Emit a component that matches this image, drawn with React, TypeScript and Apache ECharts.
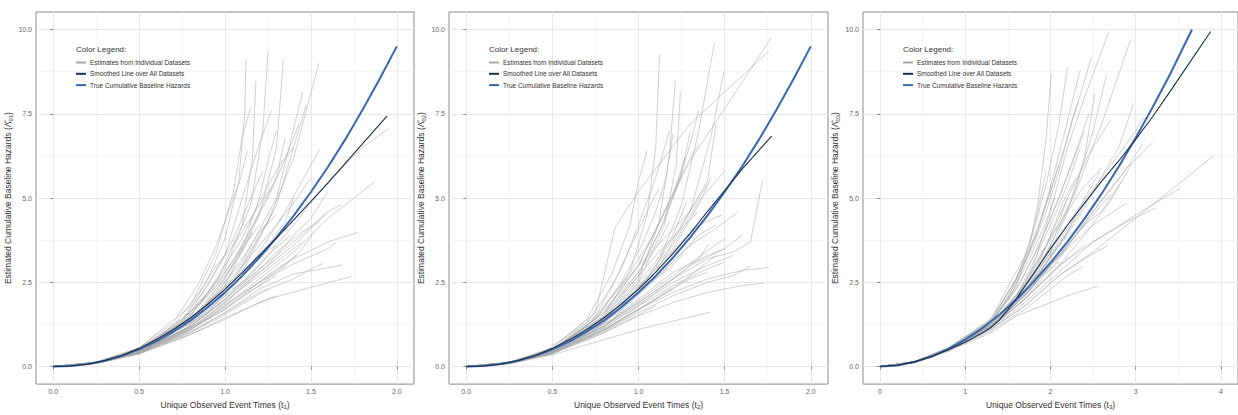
import React, { useEffect, useRef } from "react";
import * as echarts from "echarts";

const FONT = "Liberation Sans, Arial, Helvetica, sans-serif";

const LEGEND_NAMES = [
  "Estimates from Individual Datasets",
  "Smoothed Line over All Datasets",
  "True Cumulative Baseline Hazards",
];

const Y_TICKS = [0, 2.5, 5, 7.5, 10];
const Y_MINOR = [1.25, 3.75, 6.25, 8.75];
const X_TICKS_12 = [0, 0.5, 1, 1.5, 2];
const X_MINOR_12 = [0.25, 0.75, 1.25, 1.75];
const X_TICKS_3 = [0, 1, 2, 3, 4];
const X_MINOR_3 = [0.5, 1.5, 2.5, 3.5];

// ---------- Panel 1 (t1) ----------
const TRUE_1: number[][] = [
  [0, 0], [0.1, 0.017], [0.2, 0.074], [0.3, 0.173], [0.4, 0.318], [0.5, 0.51],
  [0.6, 0.75], [0.7, 1.04], [0.8, 1.37], [0.9, 1.76], [1.0, 2.2], [1.1, 2.69],
  [1.2, 3.23], [1.3, 3.83], [1.4, 4.48], [1.5, 5.18], [1.6, 5.93], [1.7, 6.74],
  [1.8, 7.61], [1.9, 8.53], [2.0, 9.5],
];
const SMOOTH_1: number[][] = [
  [0, 0], [0.1, 0.017], [0.2, 0.07], [0.3, 0.18], [0.4, 0.33], [0.5, 0.54],
  [0.6, 0.8], [0.7, 1.1], [0.8, 1.45], [0.9, 1.85], [1.0, 2.3], [1.1, 2.78],
  [1.2, 3.3], [1.3, 3.82], [1.4, 4.35], [1.5, 4.9], [1.6, 5.45], [1.7, 6.03],
  [1.8, 6.61], [1.944, 7.44],
];
const GREY_1: number[][][] = [
  [[0,0],[0.25,0.13],[0.5,0.55],[0.75,1.3],[0.9,2.6],[1.0,3.8],[1.08,5.5],[1.115,7.5],[1.122,9.1]],
  [[0,0],[0.25,0.12],[0.5,0.5],[0.75,1.2],[0.95,2.5],[1.1,4.2],[1.16,6.2],[1.18,8.49]],
  [[0,0],[0.25,0.12],[0.5,0.5],[0.8,1.5],[1.0,2.9],[1.15,4.8],[1.22,7.0],[1.25,9.35]],
  [[0,0],[0.25,0.11],[0.5,0.45],[0.8,1.4],[1.0,2.4],[1.2,4.5],[1.3,6.5],[1.34,9.1]],
  [[0,0],[0.25,0.11],[0.5,0.45],[0.8,1.3],[1.05,2.5],[1.25,4.3],[1.4,6.2],[1.546,9.0]],
  [[0,0],[0.25,0.12],[0.5,0.5],[0.85,1.6],[1.1,3.1],[1.3,5.0],[1.452,8.15]],
  [[0,0],[0.25,0.11],[0.5,0.45],[0.85,1.5],[1.1,2.8],[1.3,4.8],[1.472,7.76]],
  [[0,0],[0.25,0.1],[0.5,0.4],[0.9,1.6],[1.15,3.0],[1.35,4.6],[1.55,6.45]],
  [[0,0],[0.25,0.13],[0.5,0.55],[0.8,1.8],[0.95,3.4],[1.05,5.2],[1.1,6.8],[1.15,7.7]],
  [[0,0],[0.25,0.12],[0.5,0.5],[0.8,1.6],[1.0,3.3],[1.1,5.0],[1.2,6.6],[1.27,7.6]],
  [[0,0],[0.25,0.11],[0.5,0.45],[0.85,1.6],[1.05,3.0],[1.2,4.6],[1.3,5.6],[1.35,6.8]],
  [[0,0],[0.25,0.12],[0.5,0.5],[0.75,1.4],[0.9,2.4],[1.05,3.8],[1.15,5.0],[1.22,5.8]],
  [[0,0],[0.25,0.11],[0.5,0.45],[0.8,1.2],[1.0,2.0],[1.2,3.0],[1.4,4.2],[1.6,5.5],[1.8,6.5],[1.95,7.05]],
  [[0,0],[0.25,0.1],[0.5,0.4],[0.8,1.1],[1.0,1.8],[1.2,2.6],[1.4,3.4],[1.6,4.4],[1.75,5.0],[1.87,5.48]],
  [[0,0],[0.25,0.1],[0.5,0.4],[0.8,1.1],[1.0,1.8],[1.2,2.5],[1.4,3.2],[1.6,3.7],[1.773,3.98]],
  [[0,0],[0.25,0.09],[0.5,0.38],[0.8,0.95],[1.0,1.45],[1.25,2.0],[1.5,2.35],[1.734,2.67]],
  [[0,0],[0.25,0.1],[0.5,0.4],[0.8,1.0],[1.0,1.6],[1.2,2.3],[1.4,2.75],[1.685,3.01]],
  [[0,0],[0.25,0.11],[0.5,0.45],[0.8,1.2],[1.0,2.0],[1.2,2.8],[1.4,3.6],[1.585,4.52]],
  [[0,0],[0.25,0.11],[0.5,0.45],[0.8,1.2],[1.0,2.0],[1.2,2.9],[1.4,3.7],[1.6,4.6],[1.676,4.8]],
  [[0,0],[0.25,0.1],[0.5,0.4],[0.8,1.05],[1.0,1.6],[1.2,2.2],[1.4,2.6],[1.5,2.9],[1.569,3.06]],
  [[0,0],[0.25,0.1],[0.5,0.42],[0.85,1.3],[1.05,2.1],[1.25,3.0],[1.4,3.9],[1.5,4.4],[1.6,5.2]],
  [[0,0],[0.25,0.09],[0.5,0.38],[0.75,0.85],[1.0,1.4],[1.2,1.9],[1.3,2.1]],
  [[0,0],[0.25,0.09],[0.5,0.38],[0.75,0.9],[0.95,1.4],[1.15,2.0],[1.25,2.3]],
  [[0,0],[0.25,0.1],[0.5,0.4],[0.75,1.0],[1.0,1.7],[1.15,2.3],[1.3,2.9],[1.42,3.3]],
  [[0,0],[0.25,0.1],[0.5,0.42],[0.75,1.05],[0.95,1.9],[1.1,2.5],[1.25,3.3],[1.38,3.9]],
  [[0,0],[0.25,0.11],[0.5,0.45],[0.7,1.0],[0.9,1.9],[1.05,2.6],[1.2,3.3],[1.3,3.6]],
  [[0,0],[0.25,0.12],[0.5,0.48],[0.7,1.1],[0.9,2.2],[1.0,2.8],[1.1,3.5],[1.2,4.2]],
  [[0,0],[0.25,0.12],[0.5,0.5],[0.7,1.2],[0.85,2.2],[0.95,3.0],[1.05,3.6],[1.15,4.4],[1.28,5.4]],
  [[0,0],[0.25,0.13],[0.5,0.55],[0.7,1.3],[0.85,2.5],[0.95,3.6],[1.02,4.6],[1.08,5.4],[1.13,6.4]],
  [[0,0],[0.25,0.12],[0.5,0.5],[0.75,1.3],[0.9,2.2],[1.0,3.0],[1.1,3.8],[1.2,4.9],[1.32,6.0],[1.4,6.5]],
  [[0,0],[0.25,0.11],[0.5,0.45],[0.8,1.3],[0.95,2.2],[1.1,3.2],[1.2,4.0],[1.3,4.5]],
  [[0,0],[0.25,0.1],[0.5,0.4],[0.75,0.95],[1.0,1.7],[1.2,2.4],[1.35,3.0],[1.45,3.5],[1.52,4.0]],
  [[0,0],[0.25,0.1],[0.5,0.43],[0.8,1.15],[1.0,1.9],[1.15,2.6],[1.3,3.4],[1.45,4.0],[1.55,4.3]],
  [[0,0],[0.25,0.12],[0.5,0.5],[0.75,1.25],[0.95,2.4],[1.1,3.6],[1.25,5.0],[1.37,6.4],[1.43,7.2]],
  [[0,0],[0.25,0.11],[0.5,0.47],[0.8,1.35],[1.0,2.3],[1.15,3.3],[1.3,4.2],[1.42,5.0],[1.5,5.6]],
  [[0,0],[0.25,0.1],[0.5,0.42],[0.8,1.2],[1.0,1.95],[1.2,2.7],[1.35,3.3],[1.45,3.7]],
  [[0,0],[0.25,0.1],[0.5,0.4],[0.8,1.1],[1.0,1.75],[1.15,2.25],[1.3,2.7]],
  [[0,0],[0.25,0.11],[0.5,0.44],[0.75,1.15],[0.95,2.0],[1.1,2.8],[1.25,3.6],[1.35,4.3],[1.4,5.0]],
  [[0,0],[0.25,0.11],[0.5,0.46],[0.75,1.2],[0.95,2.1],[1.1,3.0],[1.2,3.9],[1.28,4.6]],
  [[0,0],[0.25,0.1],[0.5,0.41],[0.8,1.15],[1.0,1.85],[1.2,2.5],[1.4,3.05],[1.6,3.5],[1.65,3.7]],
  [[0,0],[0.25,0.12],[0.5,0.5],[0.7,1.15],[0.88,2.0],[1.0,2.7],[1.1,3.4],[1.16,4.0]],
  [[0,0],[0.25,0.1],[0.5,0.43],[0.75,1.05],[0.9,1.65],[1.05,2.3],[1.18,2.8]],
  [[0,0],[0.25,0.11],[0.5,0.47],[0.8,1.4],[1.0,2.6],[1.12,3.8],[1.2,5.0],[1.26,6.3],[1.3,7.0]],
];

// ---------- Panel 2 (t2) ----------
const TRUE_2: number[][] = [
  [0, 0], [0.1, 0.017], [0.2, 0.074], [0.3, 0.173], [0.4, 0.318], [0.5, 0.51],
  [0.6, 0.75], [0.7, 1.04], [0.8, 1.37], [0.9, 1.76], [1.0, 2.2], [1.1, 2.69],
  [1.2, 3.23], [1.3, 3.83], [1.4, 4.48], [1.5, 5.18], [1.6, 5.93], [1.7, 6.74],
  [1.8, 7.61], [1.9, 8.53], [2.0, 9.5],
];
const SMOOTH_2: number[][] = [
  [0, 0], [0.1, 0.017], [0.2, 0.07], [0.3, 0.18], [0.4, 0.33], [0.5, 0.54],
  [0.6, 0.8], [0.7, 1.1], [0.8, 1.45], [0.9, 1.85], [1.0, 2.3], [1.1, 2.8],
  [1.2, 3.35], [1.3, 3.95], [1.4, 4.6], [1.5, 5.22], [1.6, 5.85], [1.7, 6.42],
  [1.773, 6.84],
];
const GREY_2: number[][][] = [
  [[0,0],[0.25,0.12],[0.5,0.5],[0.8,1.5],[0.95,2.8],[1.05,4.5],[1.1,6.5],[1.122,9.28]],
  [[0,0],[0.25,0.11],[0.5,0.45],[0.8,1.4],[1.0,2.6],[1.12,4.3],[1.18,6.3],[1.214,8.49]],
  [[0,0],[0.25,0.11],[0.5,0.45],[0.8,1.35],[1.0,2.5],[1.15,4.2],[1.22,6.0],[1.243,8.15]],
  [[0,0],[0.25,0.11],[0.5,0.45],[0.85,1.5],[1.1,2.9],[1.25,4.8],[1.35,7.0],[1.44,9.6]],
  [[0,0],[0.25,0.11],[0.5,0.45],[0.85,1.4],[1.1,2.8],[1.3,4.6],[1.42,6.8],[1.495,8.73]],
  [[0,0],[0.25,0.13],[0.5,0.55],[0.75,1.6],[0.864,4.13],[1.0,5.2],[1.3,7.2],[1.757,9.36]],
  [[0,0],[0.25,0.12],[0.5,0.5],[0.8,1.6],[1.0,3.0],[1.15,4.6],[1.3,6.1],[1.77,9.75]],
  [[0,0],[0.25,0.11],[0.5,0.45],[0.8,1.3],[1.05,2.6],[1.25,4.2],[1.4,5.5],[1.45,7.2]],
  [[0,0],[0.25,0.12],[0.5,0.5],[0.8,1.5],[1.0,2.8],[1.15,4.3],[1.25,5.7],[1.3,7.0]],
  [[0,0],[0.25,0.12],[0.5,0.5],[0.75,1.4],[0.95,2.8],[1.1,4.0],[1.2,5.1],[1.27,6.2]],
  [[0,0],[0.25,0.12],[0.45,0.45],[0.7,1.3],[0.85,2.4],[0.95,3.5],[1.05,4.6],[1.12,5.3]],
  [[0,0],[0.25,0.11],[0.5,0.45],[0.85,1.5],[1.05,2.5],[1.2,3.4],[1.35,4.2],[1.485,4.5]],
  [[0,0],[0.25,0.1],[0.5,0.42],[0.8,1.2],[1.0,1.9],[1.2,2.6],[1.35,3.2],[1.408,3.64]],
  [[0,0],[0.25,0.1],[0.5,0.42],[0.8,1.2],[1.0,2.0],[1.2,2.8],[1.4,3.3],[1.505,3.5]],
  [[0,0],[0.25,0.1],[0.5,0.4],[0.8,1.05],[1.0,1.6],[1.2,2.1],[1.4,2.5],[1.55,2.7],[1.65,2.98]],
  [[0,0],[0.25,0.08],[0.5,0.35],[0.8,0.8],[1.0,1.1],[1.2,1.35],[1.417,1.61]],
  [[0,0],[0.25,0.1],[0.5,0.4],[0.8,1.1],[1.0,1.7],[1.2,2.2],[1.4,2.6],[1.6,2.85],[1.757,2.94]],
  [[0,0],[0.25,0.09],[0.5,0.38],[0.8,1.0],[1.0,1.5],[1.2,1.9],[1.4,2.2],[1.6,2.4],[1.728,2.48]],
  [[0,0],[0.25,0.11],[0.5,0.45],[0.8,1.2],[1.0,1.9],[1.2,2.6],[1.4,3.2],[1.55,3.4],[1.65,3.7],[1.72,5.53]],
  [[0,0],[0.25,0.1],[0.5,0.42],[0.8,1.15],[1.0,1.85],[1.2,2.5],[1.4,3.0],[1.55,3.3]],
  [[0,0],[0.25,0.1],[0.5,0.4],[0.8,1.1],[1.0,1.7],[1.2,2.3],[1.35,2.9],[1.45,3.3]],
  [[0,0],[0.25,0.11],[0.5,0.45],[0.8,1.3],[1.0,2.2],[1.2,3.1],[1.35,3.9],[1.45,4.2]],
  [[0,0],[0.25,0.12],[0.5,0.48],[0.75,1.3],[0.95,2.4],[1.1,3.3],[1.25,4.1],[1.35,4.6]],
  [[0,0],[0.25,0.1],[0.5,0.4],[0.75,0.95],[0.95,1.5],[1.1,2.0],[1.2,2.3]],
  [[0,0],[0.25,0.09],[0.5,0.38],[0.75,0.9],[0.95,1.4],[1.1,1.8]],
  [[0,0],[0.25,0.12],[0.5,0.5],[0.7,1.2],[0.85,2.1],[1.0,3.0],[1.15,3.8],[1.3,4.6],[1.4,5.4]],
  [[0,0],[0.25,0.12],[0.5,0.5],[0.75,1.5],[0.9,2.9],[1.0,4.2],[1.1,5.6],[1.18,7.0]],
  [[0,0],[0.25,0.13],[0.5,0.55],[0.7,1.4],[0.85,2.8],[0.95,4.2],[1.0,5.5],[1.05,6.4]],
  [[0,0],[0.25,0.12],[0.5,0.5],[0.8,1.6],[1.0,3.0],[1.15,4.6],[1.28,6.0],[1.35,6.6]],
  [[0,0],[0.25,0.11],[0.5,0.45],[0.8,1.3],[1.0,2.3],[1.2,3.5],[1.35,4.8],[1.42,5.6]],
  [[0,0],[0.25,0.11],[0.5,0.45],[0.85,1.4],[1.1,2.6],[1.3,3.6],[1.45,4.1],[1.58,4.6]],
  [[0,0],[0.25,0.1],[0.5,0.4],[0.85,1.2],[1.1,2.2],[1.3,3.0],[1.5,3.5],[1.6,3.9]],
  [[0,0],[0.25,0.12],[0.5,0.5],[0.75,1.4],[0.9,2.5],[1.02,3.6],[1.1,4.6],[1.16,5.6],[1.2,6.9]],
  [[0,0],[0.25,0.11],[0.5,0.47],[0.8,1.35],[1.0,2.4],[1.2,3.6],[1.35,4.9],[1.5,5.8]],
  [[0,0],[0.25,0.1],[0.5,0.42],[0.8,1.2],[1.0,1.95],[1.2,2.7],[1.35,3.25],[1.5,3.8]],
  [[0,0],[0.25,0.1],[0.5,0.4],[0.8,1.1],[1.0,1.7],[1.15,2.2],[1.3,2.6],[1.4,2.8]],
  [[0,0],[0.25,0.11],[0.5,0.45],[0.75,1.2],[0.95,2.1],[1.1,2.9],[1.25,3.7],[1.32,4.1]],
  [[0,0],[0.25,0.11],[0.5,0.47],[0.75,1.25],[0.95,2.2],[1.1,3.1],[1.2,3.9],[1.28,4.9]],
  [[0,0],[0.25,0.1],[0.5,0.41],[0.8,1.15],[1.0,1.8],[1.2,2.4],[1.4,2.9],[1.5,3.1]],
  [[0,0],[0.25,0.12],[0.5,0.5],[0.7,1.2],[0.88,2.1],[1.0,2.8],[1.1,3.5],[1.18,4.3]],
  [[0,0],[0.25,0.11],[0.5,0.44],[0.75,1.1],[0.9,1.7],[1.05,2.4],[1.2,3.0],[1.25,3.3]],
  [[0,0],[0.25,0.12],[0.5,0.48],[0.8,1.45],[1.0,2.7],[1.12,4.0],[1.22,5.3],[1.3,6.6],[1.35,7.6]],
];

// ---------- Panel 3 (t3) ----------
const TRUE_3: number[][] = [
  [0, 0], [0.2, 0.035], [0.4, 0.133], [0.6, 0.29], [0.8, 0.52], [1.0, 0.8],
  [1.2, 1.14], [1.4, 1.54], [1.6, 1.99], [1.8, 2.51], [2.0, 3.08], [2.2, 3.71],
  [2.4, 4.39], [2.6, 5.13], [2.8, 5.93], [3.0, 6.79], [3.2, 7.7], [3.4, 8.66],
  [3.66, 10.0],
];
const SMOOTH_3: number[][] = [
  [0, 0], [0.2, 0.04], [0.4, 0.14], [0.6, 0.3], [0.8, 0.5], [1.0, 0.72],
  [1.2, 1.0], [1.3, 1.16], [1.4, 1.38], [1.5, 1.68], [1.6, 2.02], [1.8, 2.75],
  [2.0, 3.5], [2.2, 4.2], [2.4, 4.85], [2.6, 5.5], [2.8, 6.1], [3.0, 6.74],
  [3.2, 7.42], [3.4, 8.15], [3.6, 8.9], [3.88, 9.94],
];
const GREY_3: number[][][] = [
  [[0,0],[0.4,0.13],[0.8,0.5],[1.3,1.2],[1.6,2.0],[1.8,3.0],[2.0,4.6],[2.2,6.5],[2.4,8.0],[2.687,9.94]],
  [[0,0],[0.4,0.13],[0.8,0.5],[1.3,1.2],[1.7,2.2],[2.0,3.6],[2.3,5.2],[2.6,7.2],[2.94,9.7]],
  [[0,0],[0.4,0.14],[0.8,0.55],[1.3,1.3],[1.6,2.4],[1.8,3.8],[2.0,5.2],[2.2,6.8],[2.48,9.17]],
  [[0,0],[0.4,0.14],[0.8,0.55],[1.3,1.3],[1.6,2.5],[1.85,4.0],[2.05,5.8],[2.2,7.3],[2.346,8.78]],
  [[0,0],[0.4,0.14],[0.8,0.55],[1.3,1.35],[1.6,2.6],[1.8,4.0],[1.95,5.4],[2.1,7.2],[2.2,8.88]],
  [[0,0],[0.4,0.14],[0.8,0.55],[1.3,1.4],[1.55,2.6],[1.75,3.5],[1.85,4.8],[1.95,6.8],[2.008,8.68]],
  [[0,0],[0.4,0.13],[0.8,0.5],[1.3,1.25],[1.7,2.3],[2.0,3.6],[2.3,5.3],[2.5,7.0],[2.656,8.64]],
  [[0,0],[0.4,0.13],[0.8,0.5],[1.3,1.2],[1.7,2.2],[2.0,3.4],[2.2,4.6],[2.4,6.2],[2.52,8.1]],
  [[0,0],[0.4,0.13],[0.8,0.5],[1.3,1.2],[1.7,2.2],[2.1,3.6],[2.5,5.2],[2.8,6.5],[2.975,7.81]],
  [[0,0],[0.4,0.13],[0.8,0.5],[1.3,1.15],[1.7,2.0],[2.1,3.2],[2.5,4.6],[2.9,5.9],[3.2,6.65]],
  [[0,0],[0.4,0.13],[0.8,0.5],[1.3,1.2],[1.7,2.1],[2.1,3.3],[2.5,4.6],[2.9,5.9],[3.08,6.6]],
  [[0,0],[0.4,0.12],[0.8,0.48],[1.3,1.1],[1.7,1.8],[2.1,2.7],[2.5,3.4],[3.2,4.8],[3.926,6.28]],
  [[0,0],[0.4,0.12],[0.8,0.48],[1.3,1.1],[1.7,1.9],[2.1,2.8],[2.5,3.7],[3.0,4.5],[3.52,5.29]],
  [[0,0],[0.4,0.13],[0.8,0.5],[1.3,1.15],[1.7,2.0],[2.1,3.0],[2.5,3.7],[2.9,4.3],[3.24,4.71]],
  [[0,0],[0.4,0.13],[0.8,0.5],[1.3,1.2],[1.7,2.1],[2.1,3.3],[2.5,4.2],[2.89,4.85]],
  [[0,0],[0.4,0.12],[0.8,0.48],[1.3,1.1],[1.7,1.8],[2.1,2.7],[2.4,3.2],[2.676,3.6]],
  [[0,0],[0.4,0.12],[0.8,0.47],[1.3,1.05],[1.7,1.7],[2.0,2.3],[2.2,2.7],[2.385,2.97]],
  [[0,0],[0.4,0.12],[0.8,0.45],[1.3,1.0],[1.6,1.5],[1.9,1.8],[2.2,2.1],[2.548,2.38]],
  [[0,0],[0.4,0.13],[0.8,0.5],[1.3,1.2],[1.7,2.2],[2.0,3.2],[2.2,4.0],[2.4,5.0],[2.58,5.78]],
  [[0,0],[0.4,0.13],[0.8,0.5],[1.3,1.2],[1.7,2.1],[2.1,3.3],[2.4,4.2],[2.6,4.6],[2.83,5.48]],
  [[0,0],[0.4,0.14],[0.8,0.52],[1.3,1.25],[1.6,2.1],[1.8,3.1],[2.0,4.2],[2.2,5.4],[2.35,6.5]],
  [[0,0],[0.4,0.14],[0.8,0.52],[1.3,1.3],[1.6,2.3],[1.85,3.5],[2.05,4.7],[2.25,6.0],[2.4,7.0]],
  [[0,0],[0.4,0.14],[0.8,0.52],[1.3,1.3],[1.5,2.0],[1.7,3.2],[1.85,4.6],[1.95,5.8]],
  [[0,0],[0.4,0.13],[0.8,0.5],[1.3,1.2],[1.6,1.9],[1.9,2.9],[2.1,3.6],[2.3,4.3],[2.45,4.9]],
  [[0,0],[0.4,0.13],[0.8,0.5],[1.3,1.25],[1.65,2.3],[1.9,3.4],[2.15,4.4],[2.35,5.2],[2.6,5.9]],
  [[0,0],[0.4,0.13],[0.8,0.5],[1.2,1.0],[1.5,1.6],[1.75,2.3],[2.0,3.0],[2.2,3.5]],
  [[0,0],[0.4,0.13],[0.8,0.5],[1.3,1.2],[1.65,2.0],[1.9,2.7],[2.1,3.1]],
  [[0,0],[0.4,0.14],[0.8,0.55],[1.3,1.4],[1.6,2.6],[1.8,3.6],[1.95,4.6],[2.1,5.8],[2.25,7.3],[2.33,7.9]],
  [[0,0],[0.4,0.14],[0.8,0.55],[1.3,1.35],[1.55,2.4],[1.75,3.4],[1.9,4.4],[2.0,5.2],[2.1,6.0]],
  [[0,0],[0.4,0.13],[0.8,0.5],[1.3,1.2],[1.7,2.2],[2.0,3.4],[2.3,4.6],[2.6,5.6],[2.8,6.3],[3.0,7.0],[3.1,7.4]],
  [[0,0],[0.4,0.13],[0.8,0.5],[1.3,1.2],[1.7,2.0],[2.1,3.0],[2.4,3.9],[2.7,4.9],[2.95,6.0]],
  [[0,0],[0.4,0.14],[0.8,0.52],[1.3,1.3],[1.65,2.5],[1.9,3.8],[2.1,5.0],[2.3,6.4],[2.45,7.5]],
  [[0,0],[0.4,0.13],[0.8,0.5],[1.3,1.2],[1.6,1.95],[1.9,2.9],[2.1,3.7],[2.3,4.5]],
  [[0,0],[0.4,0.14],[0.8,0.52],[1.3,1.25],[1.6,2.1],[1.9,3.3],[2.1,4.3],[2.2,5.0]],
  [[0,0],[0.4,0.13],[0.8,0.5],[1.3,1.2],[1.6,2.0],[1.85,2.9],[2.05,3.5],[2.25,4.0]],
  [[0,0],[0.4,0.14],[0.8,0.53],[1.3,1.3],[1.55,2.2],[1.75,3.2],[1.9,4.0],[2.05,5.0]],
  [[0,0],[0.4,0.13],[0.8,0.5],[1.3,1.18],[1.7,2.1],[2.0,3.0],[2.3,3.9],[2.5,4.5],[2.7,5.1]],
  [[0,0],[0.4,0.13],[0.8,0.5],[1.3,1.22],[1.6,2.05],[1.85,3.0],[2.0,3.9],[2.15,4.9],[2.3,5.6]],
  [[0,0],[0.4,0.13],[0.8,0.51],[1.3,1.25],[1.7,2.4],[1.95,3.6],[2.2,5.0],[2.45,6.3],[2.7,7.3]],
  [[0,0],[0.4,0.12],[0.8,0.49],[1.3,1.15],[1.65,1.9],[1.95,2.6],[2.2,3.2],[2.4,3.6]],
];

const GREY_COLOR = "#a6a6a6";
const SMOOTH_COLOR = "#1c2f4d";
const TRUE_COLOR = "#3868b0";

const PANELS = [
  { left: 36, width: 378, xMin: -0.1, xMax: 2.1, ticks: X_TICKS_12, minor: X_MINOR_12, dec: 1, sub: "1", yIdx: "01", grey: GREY_1, smooth: SMOOTH_1, truth: TRUE_1 },
  { left: 449, width: 379, xMin: -0.1, xMax: 2.1, ticks: X_TICKS_12, minor: X_MINOR_12, dec: 1, sub: "2", yIdx: "02", grey: GREY_2, smooth: SMOOTH_2, truth: TRUE_2 },
  { left: 863, width: 377.5, xMin: -0.2, xMax: 4.2, ticks: X_TICKS_3, minor: X_MINOR_3, dec: 0, sub: "3", yIdx: "03", grey: GREY_3, smooth: SMOOTH_3, truth: TRUE_3 },
];

const TOP = 12;
const HEIGHT = 380;

function buildOption() {
  const grid: any[] = [];
  const xAxis: any[] = [];
  const yAxis: any[] = [];
  const series: any[] = [];
  const legend: any[] = [];
  const graphic: any[] = [];

  PANELS.forEach((p, i) => {
    grid.push({
      left: p.left, top: TOP, width: p.width, height: HEIGHT,
      show: true, borderColor: "#8c8c8c", borderWidth: 1, backgroundColor: "#ffffff",
    });
    xAxis.push({
      gridIndex: i, type: "value", min: p.xMin, max: p.xMax,
      axisLine: { show: false },
      axisTick: { show: true, customValues: p.ticks, length: 3, lineStyle: { color: "#8c8c8c", width: 1 } },
      axisLabel: {
        customValues: p.ticks, fontSize: 7, color: "#666666", margin: 4, fontFamily: FONT,
        formatter: (v: number) => v.toFixed(p.dec),
      },
      splitLine: { show: false },
      name: `Unique Observed Event Times (t{s|${p.sub}})`,
      nameLocation: "middle", nameGap: 11,
      nameTextStyle: {
        fontSize: 8.5, color: "#333333", fontFamily: FONT, lineHeight: 10,
        rich: { s: { fontSize: 6, lineHeight: 6, verticalAlign: "bottom", color: "#333333", fontFamily: FONT } },
      },
    });
    yAxis.push({
      gridIndex: i, type: "value", min: -0.52, max: 10.52,
      axisLine: { show: false },
      axisTick: { show: true, customValues: Y_TICKS, length: 3, lineStyle: { color: "#8c8c8c", width: 1 } },
      axisLabel: {
        customValues: Y_TICKS, fontSize: 7, color: "#666666", margin: 4, fontFamily: FONT,
        formatter: (v: number) => v.toFixed(1),
      },
      splitLine: { show: false },
      name: `Estimated Cumulative Baseline Hazards ({h|Λ̂}{s|${p.yIdx}})`,
      nameLocation: "middle", nameGap: 17, nameRotate: 90,
      nameTextStyle: {
        fontSize: 8.5, color: "#333333", fontFamily: FONT, lineHeight: 12,
        rich: {
          h: { fontSize: 8.5, lineHeight: 12, color: "#333333", fontFamily: FONT },
          s: { fontSize: 6, lineHeight: 7, verticalAlign: "bottom", color: "#333333", fontFamily: FONT },
        },
      },
    });

    const lineData: any[] = [];
    p.minor.forEach((v) => lineData.push({ xAxis: v, lineStyle: { color: "#f0f0f0", width: 0.6 } }));
    Y_MINOR.forEach((v) => lineData.push({ yAxis: v, lineStyle: { color: "#f0f0f0", width: 0.6 } }));
    p.ticks.forEach((v) => lineData.push({ xAxis: v, lineStyle: { color: "#e8e8e8", width: 1 } }));
    Y_TICKS.forEach((v) => lineData.push({ yAxis: v, lineStyle: { color: "#e8e8e8", width: 1 } }));
    series.push({
      type: "line", name: "_grid" + i, xAxisIndex: i, yAxisIndex: i, z: 0,
      data: [[0, 0]], symbol: "none", lineStyle: { opacity: 0 }, silent: true,
      markLine: {
        silent: true, z: 0, symbol: ["none", "none"], label: { show: false },
        lineStyle: { type: "solid" }, emphasis: { disabled: true },
        data: lineData,
      },
    });

    p.grey.forEach((line) => {
      series.push({
        type: "line", name: LEGEND_NAMES[0], xAxisIndex: i, yAxisIndex: i, z: 2,
        data: line, symbol: "none", showSymbol: false, silent: true,
        itemStyle: { color: GREY_COLOR },
        lineStyle: { color: "#aaaaaa", width: 0.7, opacity: 0.8 },
      });
    });
    series.push({
      type: "line", name: LEGEND_NAMES[1], xAxisIndex: i, yAxisIndex: i, z: 4,
      data: p.smooth, symbol: "none", showSymbol: false, silent: true,
      itemStyle: { color: SMOOTH_COLOR },
      lineStyle: { color: SMOOTH_COLOR, width: 1.1 },
    });
    series.push({
      type: "line", name: LEGEND_NAMES[2], xAxisIndex: i, yAxisIndex: i, z: 3,
      data: p.truth, symbol: "none", showSymbol: false, silent: true,
      itemStyle: { color: TRUE_COLOR },
      lineStyle: { color: TRUE_COLOR, width: 2 },
    });

    legend.push({
      left: p.left + 40, top: 59, orient: "vertical", icon: "rect",
      itemWidth: 10, itemHeight: 2, itemGap: 4.3, padding: 0, selectedMode: false,
      data: LEGEND_NAMES,
      textStyle: { fontSize: 6.5, color: "#333333", fontFamily: FONT, padding: [0, 0, 0, -1] },
    });
    graphic.push({
      type: "text", left: p.left + 40, top: 45, z: 10,
      style: { text: "Color Legend:", fontSize: 8, fill: "#333333", fontFamily: FONT },
    });
  });

  return { animation: false, backgroundColor: "#ffffff", grid, xAxis, yAxis, series, legend, graphic };
}

export default function App() {
  const ref = useRef<HTMLDivElement>(null);
  useEffect(() => {
    if (!ref.current) return;
    const chart = echarts.init(ref.current, undefined, { renderer: "svg" });
    chart.setOption(buildOption() as any);
    return () => chart.dispose();
  }, []);
  return (
    <div
      ref={ref}
      style={{ position: "absolute", left: 0, top: 0, width: 1238, height: 415, background: "#ffffff" }}
    />
  );
}
